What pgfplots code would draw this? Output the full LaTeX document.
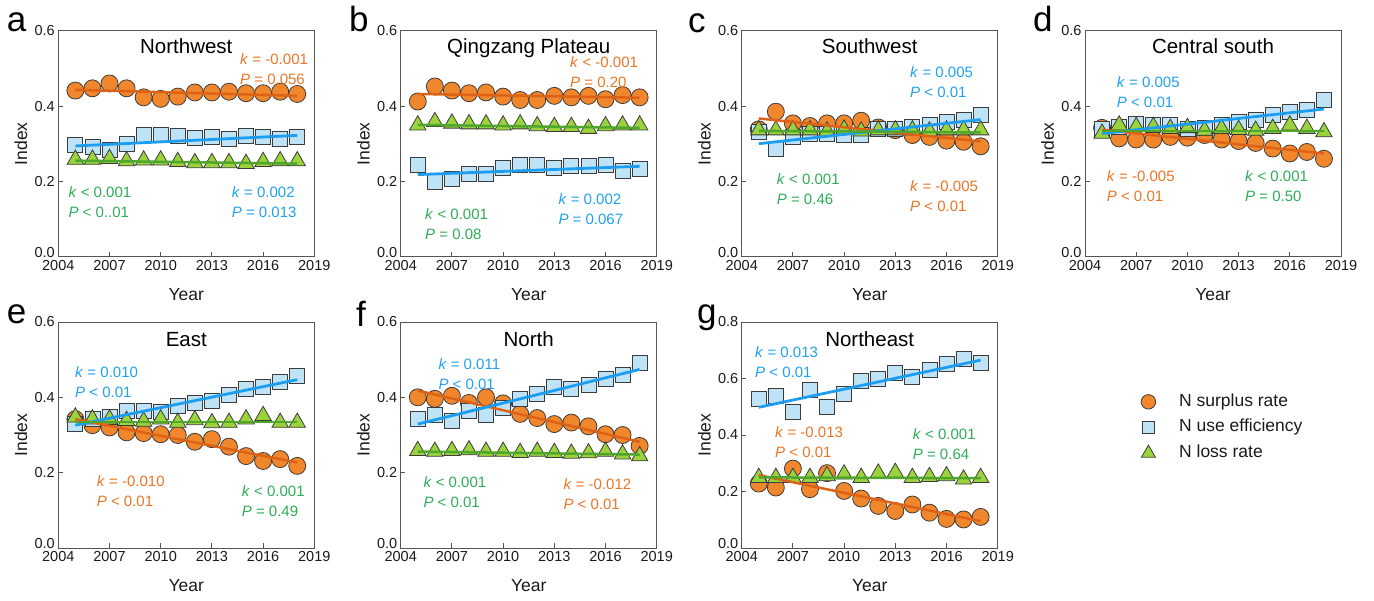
\documentclass[border=0pt]{standalone}
\usepackage{pgfplots}
\usepackage{pgfplotstable}
\pgfplotsset{compat=1.18}
\usepackage{fontspec}
\setmainfont{Liberation Sans}

\definecolor{orF}{HTML}{F0872C}
\definecolor{orL}{HTML}{DE6216}
\definecolor{orT}{HTML}{EB7526}
\definecolor{blF}{HTML}{BEE3F6}
\definecolor{blL}{HTML}{1D9DF0}
\definecolor{blT}{HTML}{1EA2F0}
\definecolor{grF}{HTML}{9BD33C}
\definecolor{grL}{HTML}{4FA62C}
\definecolor{grT}{HTML}{2EAD58}
\definecolor{edge}{HTML}{3C3C3C}
\definecolor{axc}{HTML}{555555}
\definecolor{txt}{HTML}{1A1A1A}

\newcommand\tickf{\fontsize{14.5}{16}\selectfont}
\newcommand\labf{\fontsize{17.5}{20}\selectfont}
\newcommand\titf{\fontsize{20.5}{24}\selectfont}
\newcommand\kpf{\fontsize{15}{18}\selectfont}
\newcommand\letf{\fontsize{35}{40}\selectfont}
\newcommand\legf{\fontsize{17.5}{20}\selectfont}

\pgfplotsset{
 panel/.style={
  scale only axis, width=256pt, height=226pt, anchor=south west, clip marker paths=true,
  xmin=2004, xmax=2019, ymin=0, ymax=0.6,
  xtick={2004,2007,2010,2013,2016,2019},
  ytick={0.2,0.4,0.6},
  extra y ticks={0}, extra y tick labels={0.0},
  extra y tick style={yticklabel style={yshift=4pt}},
  xtick pos=bottom, ytick pos=left, tick align=inside,
  major tick length=4.5pt,
  axis line style={draw=axc, line width=0.9pt},
  every tick/.style={draw=axc, line width=0.9pt},
  /pgf/number format/assume math mode=true,
  xticklabel style={font=\tickf, text=txt, inner sep=3pt, /pgf/number format/1000 sep={}},
  yticklabel style={font=\tickf, text=txt, /pgf/number format/fixed, /pgf/number format/fixed zerofill, /pgf/number format/precision=1},
  xlabel={Year}, ylabel={Index},
  every axis x label/.style={at={(axis description cs:0.5,-0.168)}, anchor=center, font=\labf, text=txt},
  every axis y label/.style={at={(axis description cs:-0.146,0.5)}, anchor=center, rotate=90, font=\labf, text=txt},
 },
 orm/.style={only marks, mark=*, mark size=8.5pt, mark options={draw=edge, fill=orF, line width=0.8pt}},
 blm/.style={only marks, mark=square*, mark size=7.5pt, mark options={draw=edge, fill=blF, line width=0.8pt}},
 grm/.style={only marks, mark=triangle*, mark size=9.5pt, mark options={draw=edge, fill=grF, line width=0.8pt}},
 orl/.style={no marks, draw=orL, line width=2.5pt, forget plot},
 bll/.style={no marks, draw=blL, line width=2.8pt, forget plot},
 grl/.style={no marks, draw=grL, line width=2.5pt, forget plot},
}

\pgfplotstableread{
yr O B G
2005 0.441 0.296 0.258
2006 0.447 0.292 0.258
2007 0.460 0.283 0.260
2008 0.447 0.300 0.254
2009 0.423 0.323 0.256
2010 0.419 0.324 0.256
2011 0.425 0.320 0.252
2012 0.436 0.316 0.249
2013 0.436 0.318 0.249
2014 0.438 0.314 0.249
2015 0.434 0.321 0.247
2016 0.434 0.318 0.252
2017 0.438 0.314 0.254
2018 0.432 0.318 0.254
}\tabA
\pgfplotstableread{
yr O B G
2005 0.412 0.243 0.349
2006 0.452 0.198 0.358
2007 0.441 0.207 0.354
2008 0.434 0.220 0.352
2009 0.436 0.219 0.352
2010 0.425 0.236 0.349
2011 0.416 0.243 0.352
2012 0.416 0.245 0.347
2013 0.427 0.236 0.345
2014 0.423 0.240 0.345
2015 0.427 0.240 0.340
2016 0.418 0.243 0.347
2017 0.429 0.228 0.349
2018 0.423 0.234 0.349
}\tabB
\pgfplotstableread{
yr O B G
2005 0.338 0.332 0.336
2006 0.385 0.287 0.336
2007 0.354 0.318 0.336
2008 0.347 0.325 0.336
2009 0.354 0.327 0.333
2010 0.354 0.323 0.338
2011 0.361 0.323 0.333
2012 0.343 0.340 0.336
2013 0.336 0.340 0.336
2014 0.323 0.345 0.336
2015 0.318 0.349 0.333
2016 0.308 0.358 0.336
2017 0.305 0.363 0.336
2018 0.293 0.376 0.336
}\tabC
\pgfplotstableread{
yr O B G
2005 0.342 0.340 0.327
2006 0.314 0.345 0.349
2007 0.311 0.352 0.345
2008 0.311 0.349 0.345
2009 0.318 0.349 0.340
2010 0.316 0.340 0.342
2011 0.323 0.343 0.335
2012 0.311 0.349 0.340
2013 0.307 0.358 0.337
2014 0.302 0.364 0.335
2015 0.287 0.376 0.340
2016 0.274 0.385 0.349
2017 0.278 0.391 0.340
2018 0.260 0.416 0.331
}\tabD
\pgfplotstableread{
yr O B G
2005 0.342 0.329 0.347
2006 0.326 0.342 0.342
2007 0.320 0.347 0.342
2008 0.307 0.364 0.338
2009 0.305 0.364 0.336
2010 0.302 0.362 0.342
2011 0.300 0.376 0.333
2012 0.282 0.384 0.340
2013 0.289 0.391 0.332
2014 0.269 0.406 0.333
2015 0.244 0.422 0.342
2016 0.231 0.429 0.351
2017 0.236 0.442 0.333
2018 0.218 0.458 0.333
}\tabE
\pgfplotstableread{
yr O B G
2005 0.400 0.344 0.258
2006 0.396 0.353 0.256
2007 0.404 0.338 0.258
2008 0.385 0.364 0.260
2009 0.400 0.353 0.256
2010 0.384 0.373 0.256
2011 0.356 0.397 0.253
2012 0.345 0.409 0.256
2013 0.329 0.427 0.253
2014 0.333 0.422 0.251
2015 0.323 0.433 0.252
2016 0.302 0.449 0.256
2017 0.300 0.460 0.249
2018 0.271 0.492 0.244
}\tabF
\pgfplotstableread{
yr O B G
2005 0.228 0.528 0.249
2006 0.214 0.540 0.249
2007 0.281 0.481 0.249
2008 0.208 0.558 0.249
2009 0.265 0.501 0.255
2010 0.202 0.546 0.261
2011 0.175 0.590 0.249
2012 0.149 0.600 0.264
2013 0.131 0.621 0.267
2014 0.154 0.605 0.249
2015 0.125 0.631 0.252
2016 0.103 0.653 0.255
2017 0.101 0.670 0.243
2018 0.110 0.656 0.249
}\tabG

\newcommand\kp[5]{%
 \node[anchor=base west, inner sep=0, text=#1, font=\kpf] at (#2, 601-#3) {#4};
 \node[anchor=base west, inner sep=0, text=#1, font=\kpf] at (#2, 581-#3) {#5};}

\begin{document}
\begin{tikzpicture}
\useasboundingbox (0pt,0pt) rectangle (1374pt,601pt);

% a
\begin{axis}[panel, at={(58.3pt,344.3pt)}]
\addplot[orm] table[x=yr,y=O]{\tabA};
\addplot[blm] table[x=yr,y=B]{\tabA};
\addplot[grm] table[x=yr,y=G]{\tabA};
\addplot[orl] coordinates {(2005,0.443) (2018,0.427)};
\addplot[bll] coordinates {(2005,0.294) (2018,0.322)};
\addplot[grl] coordinates {(2005,0.255) (2018,0.247)};
\end{axis}
% b
\begin{axis}[panel, at={(400.7pt,344.3pt)}]
\addplot[orm] table[x=yr,y=O]{\tabB};
\addplot[blm] table[x=yr,y=B]{\tabB};
\addplot[grm] table[x=yr,y=G]{\tabB};
\addplot[orl] coordinates {(2005,0.432) (2018,0.422)};
\addplot[bll] coordinates {(2005,0.218) (2018,0.240)};
\addplot[grl] coordinates {(2005,0.350) (2018,0.342)};
\end{axis}
% c
\begin{axis}[panel, at={(741.7pt,344.3pt)}]
\addplot[orm] table[x=yr,y=O]{\tabC};
\addplot[blm] table[x=yr,y=B]{\tabC};
\addplot[grm] table[x=yr,y=G]{\tabC};
\addplot[orl] coordinates {(2005,0.367) (2018,0.306)};
\addplot[bll] coordinates {(2005,0.300) (2018,0.364)};
\addplot[grl] coordinates {(2005,0.334) (2018,0.330)};
\end{axis}
% d
\begin{axis}[panel, at={(1085pt,344.3pt)}]
\addplot[orm] table[x=yr,y=O]{\tabD};
\addplot[blm] table[x=yr,y=B]{\tabD};
\addplot[grm] table[x=yr,y=G]{\tabD};
\addplot[orl] coordinates {(2005,0.337) (2018,0.274)};
\addplot[bll] coordinates {(2005,0.327) (2018,0.392)};
\addplot[grl] coordinates {(2005,0.334) (2018,0.334)};
\end{axis}
% e
\begin{axis}[panel, at={(58.3pt,53pt)}]
\addplot[orm] table[x=yr,y=O]{\tabE};
\addplot[blm] table[x=yr,y=B]{\tabE};
\addplot[grm] table[x=yr,y=G]{\tabE};
\addplot[orl] coordinates {(2005,0.342) (2018,0.227)};
\addplot[bll] coordinates {(2005,0.326) (2018,0.447)};
\addplot[grl] coordinates {(2005,0.335) (2018,0.335)};
\end{axis}
% f
\begin{axis}[panel, at={(400.7pt,53pt)}]
\addplot[orm] table[x=yr,y=O]{\tabF};
\addplot[blm] table[x=yr,y=B]{\tabF};
\addplot[grm] table[x=yr,y=G]{\tabF};
\addplot[orl] coordinates {(2005,0.418) (2018,0.282)};
\addplot[bll] coordinates {(2005,0.329) (2018,0.474)};
\addplot[grl] coordinates {(2005,0.256) (2018,0.248)};
\end{axis}
% g
\begin{axis}[panel, at={(741.7pt,53pt)}, ymax=0.8, ytick={0.2,0.4,0.6,0.8},
  legend style={at={(axis description cs:1.548,0.70)}, anchor=north west, draw=none, fill=none,
    font=\legf, text=txt, row sep=6pt, nodes={inner sep=1.5pt, text depth=4pt},
    /tikz/every odd column/.append style={column sep=22pt}},
  legend cell align=left, legend image post style={scale=0.85}]
\addplot[orm] table[x=yr,y=O]{\tabG};
\addlegendentry{N surplus rate}
\addplot[blm] table[x=yr,y=B]{\tabG};
\addlegendentry{N use efficiency}
\addplot[grm] table[x=yr,y=G]{\tabG};
\addlegendentry{N loss rate}
\addplot[orl] coordinates {(2005,0.258) (2018,0.095)};
\addplot[bll] coordinates {(2005,0.498) (2018,0.665)};
\addplot[grl] coordinates {(2005,0.250) (2018,0.247)};
\end{axis}

\begin{scope}[x=1pt,y=1pt]
% panel letters
\node[anchor=base west, inner sep=0, font=\letf] at (6.7, 601-31.7) {a};
\node[anchor=base west, inner sep=0, font=\letf] at (349, 601-31.7) {b};
\node[anchor=base west, inner sep=0, font=\letf] at (688, 601-32.5) {c};
\node[anchor=base west, inner sep=0, font=\letf] at (1033, 601-31.7) {d};
\node[anchor=base west, inner sep=0, font=\letf] at (6.7, 601-324) {e};
\node[anchor=base west, inner sep=0, font=\letf] at (356, 601-326.5) {f};
\node[anchor=base west, inner sep=0, font=\letf] at (697, 601-324) {g};
% titles
\node[anchor=base, inner sep=0, font=\titf] at (186.3, 601-53.3) {Northwest};
\node[anchor=base, inner sep=0, font=\titf] at (528.7, 601-53.3) {Qingzang Plateau};
\node[anchor=base, inner sep=0, font=\titf] at (869.7, 601-53.3) {Southwest};
\node[anchor=base, inner sep=0, font=\titf] at (1213, 601-53.3) {Central south};
\node[anchor=base, inner sep=0, font=\titf] at (186.3, 601-346.7) {East};
\node[anchor=base, inner sep=0, font=\titf] at (528.7, 601-346.7) {North};
\node[anchor=base, inner sep=0, font=\titf] at (869.7, 601-346.7) {Northeast};
% k / P annotations
\kp{orT}{240}{64.4}{\textit{k} = -0.001}{\textit{P} = 0.056}
\kp{grT}{68.3}{197.4}{\textit{k} < 0.001}{\textit{P} < 0..01}
\kp{blT}{231.7}{197.4}{\textit{k} = 0.002}{\textit{P} = 0.013}
\kp{orT}{570}{67.4}{\textit{k} < -0.001}{\textit{P} = 0.20}
\kp{grT}{425}{219.4}{\textit{k} < 0.001}{\textit{P} = 0.08}
\kp{blT}{558.3}{204.4}{\textit{k} = 0.002}{\textit{P} = 0.067}
\kp{blT}{910}{77.4}{\textit{k} = 0.005}{\textit{P} < 0.01}
\kp{grT}{776.7}{184.4}{\textit{k} < 0.001}{\textit{P} = 0.46}
\kp{orT}{910}{191.4}{\textit{k} = -0.005}{\textit{P} < 0.01}
\kp{blT}{1116.7}{87.4}{\textit{k} = 0.005}{\textit{P} < 0.01}
\kp{orT}{1106.7}{181.4}{\textit{k} = -0.005}{\textit{P} < 0.01}
\kp{grT}{1245}{181.4}{\textit{k} < 0.001}{\textit{P} = 0.50}
\kp{blT}{75}{377.4}{\textit{k} = 0.010}{\textit{P} < 0.01}
\kp{orT}{96.7}{486.4}{\textit{k} = -0.010}{\textit{P} < 0.01}
\kp{grT}{241.7}{496.4}{\textit{k} < 0.001}{\textit{P} = 0.49}
\kp{blT}{438.3}{369.4}{\textit{k} = 0.011}{\textit{P} < 0.01}
\kp{grT}{423.3}{487.4}{\textit{k} < 0.001}{\textit{P} < 0.01}
\kp{orT}{563.3}{489.4}{\textit{k} = -0.012}{\textit{P} < 0.01}
\kp{blT}{755}{357.4}{\textit{k} = 0.013}{\textit{P} < 0.01}
\kp{orT}{775}{437.4}{\textit{k} = -0.013}{\textit{P} < 0.01}
\kp{grT}{912.7}{439.4}{\textit{k} < 0.001}{\textit{P} = 0.64}
\end{scope}
\end{tikzpicture}
\end{document}
